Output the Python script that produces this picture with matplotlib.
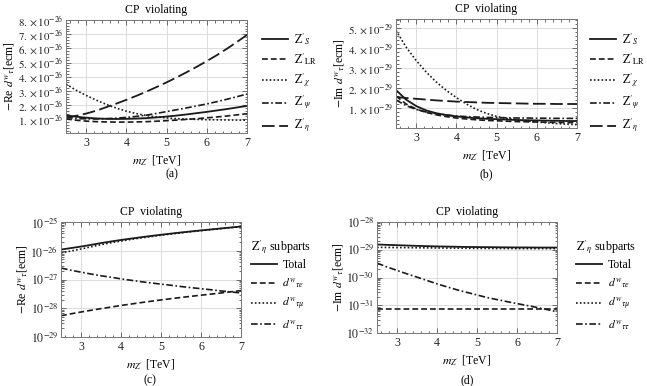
import numpy as np
import matplotlib
matplotlib.use("Agg")
import matplotlib.pyplot as plt
from matplotlib.ticker import FixedLocator, AutoMinorLocator, LogLocator, NullFormatter

plt.rcParams['font.family'] = ['Liberation Serif', 'DejaVu Serif']
plt.rcParams['mathtext.fontset'] = 'stix'

# ---------------- data ----------------
m_zp = [2.5, 2.75, 3, 3.25, 3.5, 3.75, 4, 4.25, 4.5, 4.75, 5, 5.25, 5.5, 5.75, 6, 6.25, 6.5, 6.75, 7]

# panel (a): -Re d^w_tau, units 1e-26 ecm
re_S   = [1.28, 1.18, 1.11, 1.06, 1.03, 1.02, 1.03, 1.05, 1.08, 1.13, 1.19, 1.26, 1.34, 1.43, 1.52, 1.62, 1.72, 1.83, 1.94]
re_LR  = [1.02, 0.93, 0.87, 0.83, 0.81, 0.80, 0.80, 0.81, 0.83, 0.86, 0.90, 0.94, 0.99, 1.04, 1.10, 1.16, 1.23, 1.31, 1.39]
re_chi = [3.48, 3.05, 2.68, 2.35, 2.05, 1.79, 1.57, 1.40, 1.26, 1.16, 1.09, 1.04, 1.01, 0.99, 0.97, 0.96, 0.95, 0.94, 0.93]
re_psi = [1.12, 1.06, 1.03, 1.02, 1.04, 1.08, 1.13, 1.20, 1.29, 1.41, 1.54, 1.67, 1.80, 1.94, 2.08, 2.24, 2.41, 2.59, 2.78]
re_eta = [1.10, 1.24, 1.40, 1.60, 1.85, 2.10, 2.37, 2.65, 2.95, 3.27, 3.60, 3.95, 4.32, 4.70, 5.10, 5.52, 5.97, 6.45, 6.95]

# panel (b): -Im d^w_tau, units 1e-29 ecm
im_S   = [1.90, 1.42, 1.10, 0.88, 0.74, 0.65, 0.58, 0.53, 0.49, 0.46, 0.44, 0.42, 0.40, 0.39, 0.38, 0.37, 0.36, 0.35, 0.35]
im_LR  = [1.60, 1.20, 0.95, 0.78, 0.66, 0.57, 0.50, 0.45, 0.41, 0.38, 0.36, 0.34, 0.32, 0.31, 0.30, 0.29, 0.28, 0.27, 0.27]
im_chi = [4.88, 4.05, 3.38, 2.80, 2.30, 1.88, 1.52, 1.20, 0.93, 0.73, 0.58, 0.48, 0.41, 0.35, 0.30, 0.26, 0.22, 0.19, 0.17]
im_psi = [1.40, 1.12, 0.93, 0.80, 0.71, 0.65, 0.60, 0.57, 0.55, 0.53, 0.52, 0.51, 0.50, 0.50, 0.49, 0.49, 0.48, 0.48, 0.48]
im_eta = [1.55, 1.50, 1.46, 1.42, 1.38, 1.35, 1.32, 1.30, 1.28, 1.26, 1.25, 1.24, 1.23, 1.22, 1.21, 1.21, 1.20, 1.20, 1.20]

# panel (c): Z'_eta subparts of -Re d^w_tau
re_total = [1.10e-26, 1.24e-26, 1.40e-26, 1.60e-26, 1.85e-26, 2.10e-26, 2.37e-26, 2.65e-26, 2.95e-26, 3.27e-26,
            3.60e-26, 3.95e-26, 4.32e-26, 4.70e-26, 5.10e-26, 5.52e-26, 5.97e-26, 6.45e-26, 6.95e-26]
re_tau_e = [0.55e-28, 0.64e-28, 0.74e-28, 0.85e-28, 0.97e-28, 1.10e-28, 1.25e-28, 1.40e-28, 1.57e-28, 1.75e-28,
            1.95e-28, 2.15e-28, 2.37e-28, 2.60e-28, 2.85e-28, 3.10e-28, 3.40e-28, 3.75e-28, 4.10e-28]
re_tau_mu = [0.84e-26, 0.98e-26, 1.15e-26, 1.37e-26, 1.63e-26, 1.90e-26, 2.18e-26, 2.48e-26, 2.79e-26, 3.12e-26,
             3.46e-26, 3.82e-26, 4.20e-26, 4.59e-26, 5.00e-26, 5.43e-26, 5.88e-26, 6.37e-26, 6.87e-26]
re_tau_tau = [25e-28, 21e-28, 18e-28, 15.5e-28, 13.5e-28, 12e-28, 10.5e-28, 9.4e-28, 8.4e-28, 7.6e-28,
              6.9e-28, 6.3e-28, 5.7e-28, 5.2e-28, 4.8e-28, 4.4e-28, 4.0e-28, 3.7e-28, 3.4e-28]

# panel (d): Z'_eta subparts of -Im d^w_tau
im_total = [1.55e-29, 1.50e-29, 1.46e-29, 1.42e-29, 1.38e-29, 1.35e-29, 1.32e-29, 1.30e-29, 1.28e-29, 1.26e-29,
            1.25e-29, 1.24e-29, 1.23e-29, 1.22e-29, 1.21e-29, 1.21e-29, 1.20e-29, 1.20e-29, 1.20e-29]
im_tau_e = [7.5e-32] * 19
im_tau_mu = [1.22e-29, 1.21e-29, 1.20e-29, 1.19e-29, 1.18e-29, 1.17e-29, 1.16e-29, 1.15e-29, 1.14e-29, 1.13e-29,
             1.12e-29, 1.12e-29, 1.11e-29, 1.11e-29, 1.10e-29, 1.10e-29, 1.10e-29, 1.10e-29, 1.10e-29]
im_tau_tau = [33e-31, 24e-31, 18e-31, 13.5e-31, 10.3e-31, 7.8e-31, 5.9e-31, 4.6e-31, 3.6e-31, 2.9e-31,
              2.35e-31, 1.9e-31, 1.6e-31, 1.35e-31, 1.15e-31, 0.98e-31, 0.83e-31, 0.70e-31, 0.58e-31]

labels_models = [r"$\mathrm{Z}'_{S}$", r"$\mathrm{Z}'_{\mathrm{LR}}$", r"$\mathrm{Z}'_{\chi}$",
                 r"$\mathrm{Z}'_{\psi}$", r"$\mathrm{Z}'_{\eta}$"]
labels_sub = ["Total", r"$d^{w}{}_{\tau e}$", r"$d^{w}{}_{\tau\mu}$", r"$d^{w}{}_{\tau\tau}$"]
sub_title = r"$\mathrm{Z}'_{\eta}$ subparts"
x_ticks = [3, 4, 5, 6, 7]

# ---------------- styles ----------------
LC = '#1a1a1a'
styles = [dict(ls='-', lw=1.3),
          dict(ls=(0, (3.5, 1.8)), lw=1.2),
          dict(ls=(0, (1, 1.3)), lw=1.2),
          dict(ls=(0, (4, 1.5, 1, 1.5)), lw=1.2),
          dict(ls=(0, (7, 2.5)), lw=1.3)]
sub_styles = [styles[0], styles[1], styles[2], styles[3]]

W, H = 647, 386
fig = plt.figure(figsize=(W / 100, H / 100), dpi=100)

def ax_at(l, t, r, b):
    return fig.add_axes([l / W, 1 - b / H, (r - l) / W, (b - t) / H])

FS = 8.5
TFS = 7.8
LFS = 8.4

def style_axes(ax):
    ax.set_xlim(2.5, 7)
    ax.xaxis.set_major_locator(FixedLocator(x_ticks))
    ax.xaxis.set_minor_locator(AutoMinorLocator(5))
    ax.tick_params(which='both', direction='in', top=True, right=True, colors='#555555',
                   labelcolor='#222222', labelsize=TFS, width=0.6)
    ax.tick_params(axis='x', labelsize=TFS + 0.8)
    ax.tick_params(which='major', length=3.5)
    ax.tick_params(which='minor', length=1.8)
    ax.tick_params(axis='x', pad=3)
    ax.tick_params(axis='y', pad=2)
    for s in ax.spines.values():
        s.set_color('#777777')
        s.set_linewidth(0.7)
    ax.grid(True, which='major', color='#dcdcdc', lw=0.7)
    ax.set_axisbelow(True)
    ax.set_title('CP  violating', fontsize=FS, pad=5)
    ax.set_xlabel(r"$m_{Z'}$ [TeV]", fontsize=FS, labelpad=3)

def model_legend(handles, x, yc):
    fig.legend(handles=handles, loc='center left', bbox_to_anchor=(x / W, 1 - yc / H),
               frameon=False, fontsize=LFS, handlelength=2.2, handletextpad=0.5,
               labelspacing=0.38, borderpad=0, borderaxespad=0)

def sub_legend(handles, x, ytitle, ytop):
    fig.text(x / W, 1 - ytitle / H, sub_title, ha='left', va='center', fontsize=LFS + 0.3)
    fig.legend(handles=handles, loc='upper left', bbox_to_anchor=(x / W, 1 - ytop / H),
               frameon=False, fontsize=LFS, handlelength=2.2, handletextpad=0.5,
               labelspacing=0.5, borderpad=0, borderaxespad=0)

# ---- (a)
ax = ax_at(66, 20, 247, 133)
ya = [np.array(v) * 1e-26 for v in (re_S, re_LR, re_chi, re_psi, re_eta)]
lines = []
for y, st, lab in zip(ya, styles, labels_models):
    lines += ax.plot(m_zp, y, color=LC, label=lab, **st)
style_axes(ax)
ax.set_ylim(0.03e-26, 8.0e-26)
ax.yaxis.set_major_locator(FixedLocator([k * 1e-26 for k in range(1, 9)]))
ax.set_yticklabels([r"$%d.\times10^{-26}$" % k for k in range(1, 9)])
ax.yaxis.set_minor_locator(AutoMinorLocator(5))
ax.set_ylabel(r"$-$Re $d^{w}{}_{\tau}$[ecm]", fontsize=FS, labelpad=1)
model_legend(lines, 262, 83)
fig.text(172 / W, 1 - 174 / H, '(a)', ha='center', va='center', fontsize=FS)

# ---- (b)
ax = ax_at(396, 19, 577, 128)
yb = [np.array(v) * 1e-29 for v in (im_S, im_LR, im_chi, im_psi, im_eta)]
lines = []
for y, st, lab in zip(yb, styles, labels_models):
    lines += ax.plot(m_zp, y, color=LC, label=lab, **st)
style_axes(ax)
ax.set_ylim(0, 5.45e-29)
ax.yaxis.set_major_locator(FixedLocator([k * 1e-29 for k in range(1, 6)]))
ax.set_yticklabels([r"$%d.\times10^{-29}$" % k for k in range(1, 6)])
ax.yaxis.set_minor_locator(AutoMinorLocator(5))
ax.set_ylabel(r"$-$Im $d^{w}{}_{\tau}$[ecm]", fontsize=FS, labelpad=1)
model_legend(lines, 590, 83)
fig.text(486 / W, 1 - 174 / H, '(b)', ha='center', va='center', fontsize=FS)

def log_axes(ax, lo, hi):
    ax.set_yscale('log')
    ax.set_ylim(10.0 ** lo, 10.0 ** hi)
    ax.yaxis.set_major_locator(FixedLocator([10.0 ** k for k in range(lo, hi + 1)]))
    ax.set_yticklabels([r"$10^{%d}$" % k for k in range(lo, hi + 1)])
    ax.yaxis.set_minor_locator(LogLocator(base=10, subs=np.arange(2, 10) * 1.0, numticks=20))
    ax.yaxis.set_minor_formatter(NullFormatter())
    ax.tick_params(axis='y', labelsize=TFS + 0.8)

# ---- (c)
ax = ax_at(61, 222, 241, 337)
lines = []
for y, st, lab in zip((re_total, re_tau_e, re_tau_mu, re_tau_tau), sub_styles, labels_sub):
    lines += ax.plot(m_zp, y, color=LC, label=lab, **st)
style_axes(ax)
log_axes(ax, -29, -25)
ax.set_ylabel(r"$-$Re $d^{w}{}_{\tau}$[ecm]", fontsize=FS, labelpad=1)
sub_legend(lines, 251, 248, 259)
fig.text(150 / W, 1 - 380 / H, '(c)', ha='center', va='center', fontsize=FS)

# ---- (d)
ax = ax_at(377, 222, 557, 333)
lines = []
for y, st, lab in zip((im_total, im_tau_e, im_tau_mu, im_tau_tau), sub_styles, labels_sub):
    lines += ax.plot(m_zp, y, color=LC, label=lab, **st)
style_axes(ax)
log_axes(ax, -32, -28)
ax.set_ylabel(r"$-$Im $d^{w}{}_{\tau}$[ecm]", fontsize=FS, labelpad=1)
sub_legend(lines, 576, 248, 259)
fig.text(467 / W, 1 - 380 / H, '(d)', ha='center', va='center', fontsize=FS)

fig.savefig('out.png', dpi=100)
